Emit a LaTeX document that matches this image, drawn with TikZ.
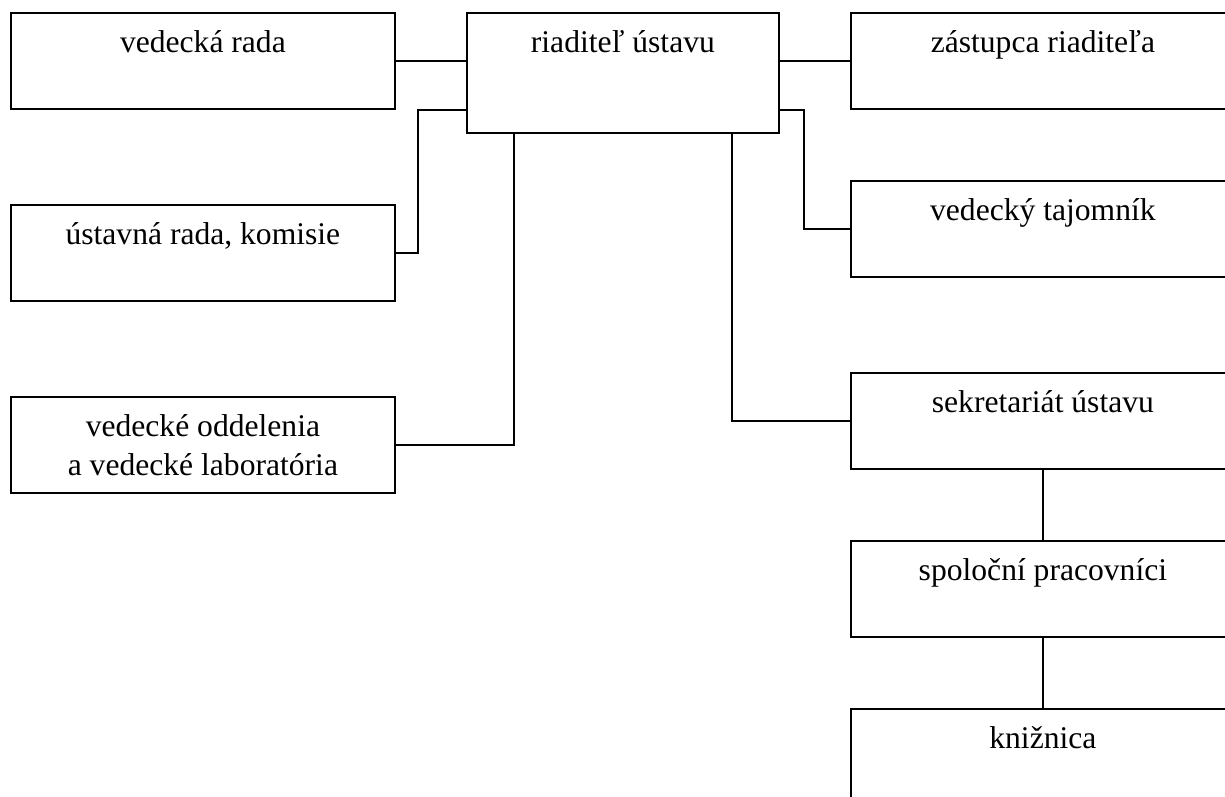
\documentclass[tikz,border=0pt]{standalone}
\usepackage{fontspec}
\setmainfont{Liberation Serif}
\begin{document}
\begin{tikzpicture}[x=1pt,y=-1pt,
  box/.style={draw, line width=1.8pt, minimum width=384pt, minimum height=96pt, inner sep=0pt, anchor=north west},
  bigbox/.style={box, minimum width=312pt, minimum height=120pt},
  txt/.style={anchor=base, inner sep=0pt, font=\fontsize{31.6pt}{39pt}\selectfont, align=center},
  conn/.style={line width=1.8pt}]
\clip (0,0) rectangle (1225,796);
\fill[white] (0,0) rectangle (1225,796);
% boxes
\node[box] (vr) at (10,12) {};
\node[box] (ur) at (10,204) {};
\node[box] (vo) at (10,396) {};
\node[bigbox] (rd) at (466,12) {};
\node[box] (zr) at (850,12) {};
\node[box] (vt) at (850,180) {};
\node[box] (sk) at (850,372) {};
\node[box] (sp) at (850,540) {};
\node[box] (kn) at (850,708) {};
% texts
\node[txt] (tvr) at ([yshift=-40pt]vr.north) {vedecká rada};
\node[txt] (tur) at ([yshift=-40pt]ur.north) {ústavná rada, komisie};
\node[txt] (tvo1) at ([yshift=-40pt]vo.north) {vedecké oddelenia};
\node[txt] (tvo2) at ([yshift=-79pt]vo.north) {a vedecké laboratória};
\node[txt] (trd) at ([yshift=-40pt]rd.north) {riaditeľ ústavu};
\node[txt] (tzr) at ([yshift=-40pt]zr.north) {zástupca riaditeľa};
\node[txt] (tvt) at ([yshift=-40pt]vt.north) {vedecký tajomník};
\node[txt] (tsk) at ([yshift=-40pt]sk.north) {sekretariát ústavu};
\node[txt] (tsp) at ([yshift=-40pt]sp.north) {spoloční pracovníci};
\node[txt] (tkn) at ([yshift=-40pt]kn.north) {knižnica};
% connectors
\draw[conn] (vr.east) -- (rd.west |- vr.east);
\draw[conn] ([yshift=24pt]rd.south west) -- ++(-48,0) |- (ur.east);
\draw[conn] ([xshift=48pt]rd.south west) |- (vo.east);
\draw[conn] (rd.east |- zr.west) -- (zr.west);
\draw[conn] ([yshift=24pt]rd.south east) -- ++(24,0) |- (vt.west);
\draw[conn] ([xshift=-48pt]rd.south east) |- (sk.west);
\draw[conn] (sk.south) -- (sp.north);
\draw[conn] (sp.south) -- (kn.north);
\end{tikzpicture}
\end{document}
